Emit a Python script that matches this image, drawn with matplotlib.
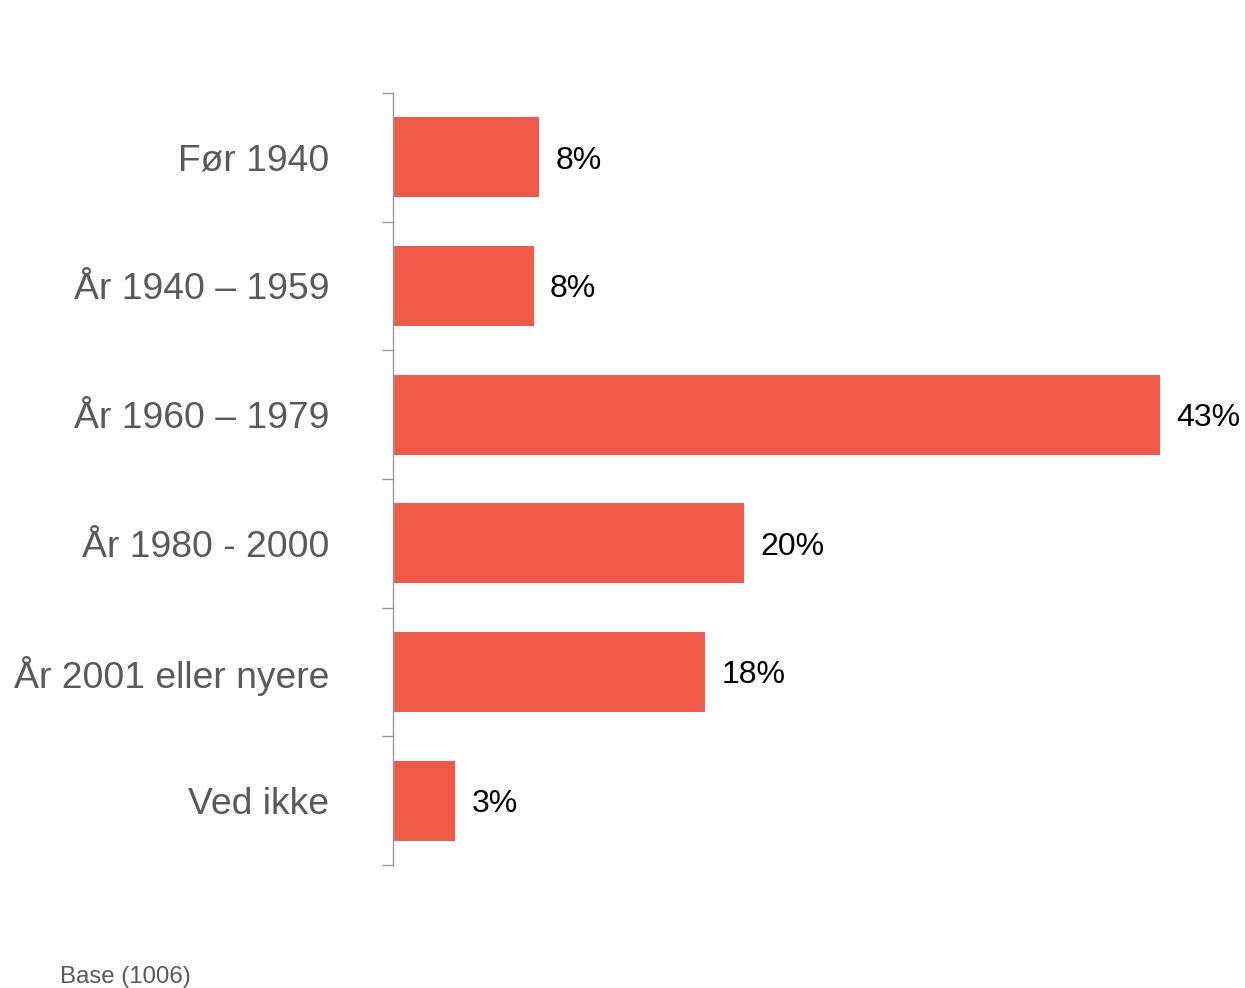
import numpy as np
import matplotlib.pyplot as plt

# Data
categories = ['Før 1940', 'År 1940 – 1959', 'År 1960 – 1979', 'År 1980 - 2000',
              'År 2001 eller nyere', 'Ved ikke']
values = [8.2, 7.9, 43.0, 19.7, 17.5, 3.5]
labels = ['8%', '8%', '43%', '20%', '18%', '3%']

plt.rcParams['font.family'] = ['Liberation Sans', 'DejaVu Sans']

fig = plt.figure(figsize=(12.45, 9.88), dpi=100)
ax = fig.add_axes([0.3157, 0.1245, 0.6160, 0.7814])

y = np.arange(len(categories))
ax.barh(y, values, height=0.62, color='#EE5B48')

for yi, v, lab in zip(y, values, labels):
    ax.text(v + 0.9, yi, lab, va='center_baseline', ha='left', fontsize=23,
            color='black', clip_on=False)

ax.set_xlim(0, 43)
ax.set_ylim(len(categories) - 0.5, -0.5)
ax.set_xticks([])

# labels at centers, tick marks at category boundaries
ax.set_yticks(y)
ax.set_yticklabels(categories, fontsize=26.8, color='#595959')
ax.tick_params(axis='y', which='major', length=0, pad=46)
ax.set_yticks(np.arange(-0.5, len(categories)), minor=True)
ax.tick_params(axis='y', which='minor', length=8, width=1, color='#9a9a9a')

for s in ['top', 'right', 'bottom']:
    ax.spines[s].set_visible(False)
ax.spines['left'].set_color('#9a9a9a')
ax.spines['left'].set_linewidth(1)

fig.text(60 / 1245, 1 - 977 / 988, 'Base (1006)', fontsize=17.3,
         color='#595959', va='center', ha='left')

fig.savefig('out.png', dpi=100)
